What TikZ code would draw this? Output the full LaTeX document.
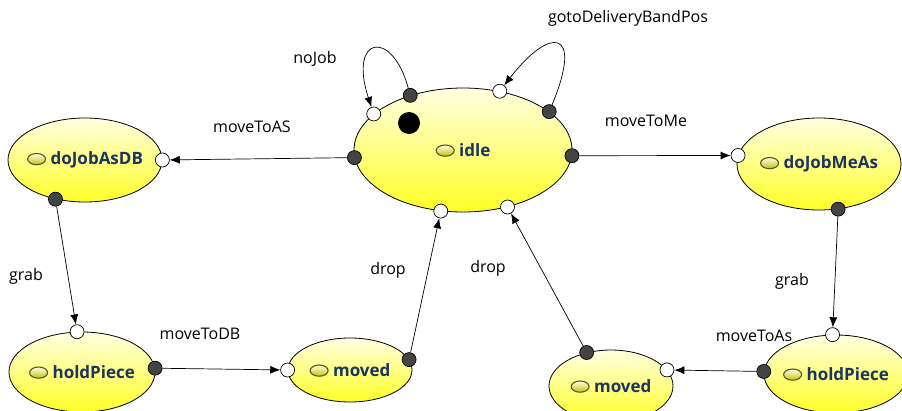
\documentclass[tikz,border=0pt]{standalone}
\usepackage{fontspec}
\setmainfont{Open Sans}
\usetikzlibrary{shapes,arrows,positioning,calc,arrows.meta}
\definecolor{portgray}{RGB}{68,68,68}
\definecolor{namenavy}{RGB}{28,52,96}
\definecolor{iconline}{RGB}{85,85,35}
\newcommand{\stateicon}{\tikz[baseline=-0.6ex]\shade[top color=yellow!10, bottom color=yellow!75!black!95, draw=iconline, line width=1.1pt] (0,0) ellipse (9pt and 5.6pt);}
\newcommand{\statename}[1]{\makebox[0pt]{\stateicon\ #1}}

\begin{document}
\begin{tikzpicture}[x=1pt, y=-1pt,
        state/.style={ellipse, draw, line width=0.8pt, top color=yellow!12, bottom color=yellow!85, text=namenavy, font=\bfseries\fontsize{17}{20}\selectfont, inner sep=0pt},
        port/.style={circle, draw, line width=0.7pt, inner sep=0pt, minimum size=14pt},
        inport/.style={port, fill=white},
        outport/.style={port, fill=portgray},
        lbl/.style={font=\fontsize{16}{19}\selectfont},
        line/.style={draw, -{Latex[length=10pt,width=8pt]}, line width=0.7pt}]
        \useasboundingbox (0,0) rectangle (902,410);

        % states
        \node [state, minimum width=218pt, minimum height=124pt] (idle) at (463,150) {\statename{idle}};
        \node [state, minimum width=154pt, minimum height=84pt] (asdb) at (85,160) {\statename{doJobAsDB}};
        \node [state, minimum width=164pt, minimum height=92pt] (meas) at (819,164) {\statename{doJobMeAs}};
        \node [state, minimum width=146pt, minimum height=80pt] (holdL) at (82,372) {\statename{holdPiece}};
        \node [state, minimum width=124pt, minimum height=64pt] (movedL) at (350,370) {\statename{moved}};
        \node [state, minimum width=124pt, minimum height=72pt] (movedR) at (611,386) {\statename{moved}};
        \node [state, minimum width=144pt, minimum height=78pt] (holdR) at (836,374) {\statename{holdPiece}};
        \node [circle, fill=black, inner sep=0pt, minimum size=22pt] (init) at (409,123) {};

        % ports
        \node [outport] (idleL) at (idle.184) {};
        \node [outport] (idleR) at (idle.-3) {};
        \node [outport] (idleTL) at (idle.134) {};
        \node [inport] (idleLL) at (idle.158) {};
        \node [inport] (idleTR) at (idle.58) {};
        \node [outport] (idleRR) at (idle.24) {};
        \node [inport] (idleB1) at (idle.-110) {};
        \node [inport] (idleB2) at (idle.-52) {};
        \node [inport] (asdbIn) at (asdb.0) {};
        \node [outport] (asdbOut) at (asdb.-127) {};
        \node [inport] (measIn) at (meas.174) {};
        \node [outport] (measOut) at (meas.-67) {};
        \node [inport] (holdLIn) at (holdL.97) {};
        \node [outport] (holdLOut) at (holdL.3) {};
        \node [inport] (movedLIn) at (movedL.180) {};
        \node [outport] (movedLOut) at (movedL.10) {};
        \node [outport] (movedROut) at (movedR.126) {};
        \node [inport] (movedRIn) at (movedR.16) {};
        \node [inport] (holdRIn) at (holdR.95) {};
        \node [outport] (holdROut) at (holdR.178) {};

        % transitions
        \path [line] (idleL) -- (asdbIn);
        \path [line] (idleR) -- (measIn);
        \path [line] (idleTL) .. controls (392,28) and (348,36) .. (idleLL);
        \path [line] (idleRR) .. controls (584,28) and (550,26) .. (idleTR);
        \path [line] (asdbOut) -- (holdLIn);
        \path [line] (holdLOut) -- (movedLIn);
        \path [line] (movedLOut) -- (idleB1);
        \path [line] (movedROut) -- (idleB2);
        \path [line] (measOut) -- (holdRIn);
        \path [line] (holdROut) -- (movedRIn);

        % labels
        \node [lbl] (tAS) at (252,127) {moveToAS};
        \node [lbl] (tMe) at (646,121) {moveToMe};
        \node [lbl] (tNo) at (315,59) {noJob};
        \node [lbl] (tGo) at (628,18) {gotoDeliveryBandPos};
        \node [lbl] (tGrabL) at (26,276) {grab};
        \node [lbl] (tDB) at (200,334) {moveToDB};
        \node [lbl] (tDropL) at (388,270) {drop};
        \node [lbl] (tDropR) at (488,268) {drop};
        \node [lbl] (tGrabR) at (792,281) {grab};
        \node [lbl] (tAs) at (754,336) {moveToAs};
\end{tikzpicture}
\end{document}
